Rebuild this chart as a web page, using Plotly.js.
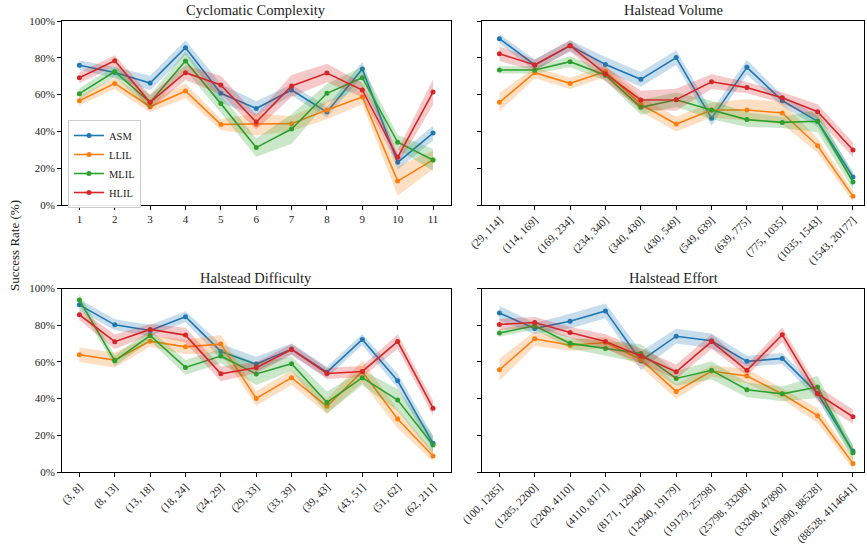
<!DOCTYPE html>
<html>
<head>
<meta charset="utf-8">
<script src="https://cdn.plot.ly/plotly-3.0.1.min.js"></script>
<style>html,body{margin:0;padding:0;background:#fff;}#chart{width:867px;height:544px;}</style>
</head>
<body>
<div id="chart"></div>
<script>
// ---------- categories ----------
const catCC = ["1","2","3","4","5","6","7","8","9","10","11"];
const catHV = ["(29, 114]","(114, 169]","(169, 234]","(234, 340]","(340, 430]","(430, 549]","(549, 639]","(639, 775]","(775, 1035]","(1035, 1543]","(1543, 20177]"];
const catHD = ["(3, 8]","(8, 13]","(13, 18]","(18, 24]","(24, 29]","(29, 33]","(33, 39]","(39, 43]","(43, 51]","(51, 62]","(62, 211]"];
const catHE = ["(100, 1285]","(1285, 2200]","(2200, 4110]","(4110, 8171]","(8171, 12940]","(12940, 19179]","(19179, 25798]","(25798, 33208]","(33208, 47890]","(47890, 88528]","(88528, 4114641]"];

const seriesNames = ["ASM","LLIL","MLIL","HLIL"];
const yTickVals = [0, 20, 40, 60, 80, 100];
const yTickText = ["0%", "20%", "40%", "60%", "80%", "100%"];

// ---------- Cyclomatic Complexity ----------
const ccASM  = [76, 72, 66.3, 85.5, 60.7, 52.4, 62.5, 50.5, 73.9, 23.2, 39.1];
const ccLLIL = [56.7, 66.1, 53.4, 62, 43.8, 43.8, 44.2, 51.6, 58.7, 13, 24.5];
const ccMLIL = [60.5, 72.5, 55.8, 78.3, 55.1, 31.2, 41.3, 60.7, 69.2, 34.1, 24.5];
const ccHLIL = [69.2, 78.4, 55.8, 71.9, 65.2, 45.1, 64.7, 71.7, 62.5, 25.9, 61.4];
const ccASMerr  = [2.5, 3, 4, 4, 5, 4, 3, 3, 4, 4, 4];
const ccLLILerr = [2.5, 3, 3, 4, 3, 6, 4, 5, 4, 8, 5];
const ccMLILerr = [3, 3, 4, 5, 5, 5, 8, 5, 6, 4, 6];
const ccHLILerr = [3, 3, 4, 4, 5, 4, 6, 5, 4, 4, 7];

// ---------- Halstead Volume ----------
const hvASM  = [90.4, 76.1, 86.6, 76.4, 68.3, 80.1, 47.1, 74.8, 56.7, 45.5, 15.2];
const hvLLIL = [55.8, 71.9, 66.1, 72.5, 54.7, 44, 51.6, 51.6, 50, 32.2, 4.7];
const hvMLIL = [73.4, 73.4, 77.9, 70.5, 53.1, 57.2, 51.6, 46.4, 44.9, 45.5, 12.5];
const hvHLIL = [82.2, 76.1, 86.6, 71.2, 57.1, 57.2, 67, 63.8, 58.3, 50.7, 29.9];
const hvASMerr  = [2.5, 3, 3, 4, 4, 4, 4, 4, 3, 3, 3];
const hvLLILerr = [5, 3, 3, 3, 4, 4, 4, 6, 6, 4, 3];
const hvMLILerr = [2, 2, 3, 3, 4, 4, 5, 4, 3, 6, 4];
const hvHLILerr = [4, 3, 3, 4, 5, 6, 4, 3, 3, 4, 4];

// ---------- Halstead Difficulty ----------
const hdASM  = [91.1, 80.2, 77.1, 84.6, 65.7, 58.8, 67, 54.4, 72.2, 49.7, 15.6];
const hdLLIL = [63.9, 61, 71.3, 68.2, 69.7, 40.1, 51.4, 35.8, 54.8, 28.9, 8.7];
const hdMLIL = [93.8, 60.6, 74.4, 57, 63.2, 53.4, 59, 37.9, 51.4, 39.2, 14.7];
const hdHLIL = [85.7, 71, 77.7, 74.6, 53.5, 56.8, 66.8, 53.7, 54.8, 71.1, 34.8];
const hdASMerr  = [3, 3, 3, 3, 4, 4, 3, 3, 3, 4, 4];
const hdLLILerr = [4, 4, 3, 4, 5, 4, 4, 4, 6, 5, 3];
const hdMLILerr = [3, 3, 3, 4, 4, 6, 4, 6, 4, 6, 5];
const hdHLILerr = [3, 4, 3, 4, 4, 3, 3, 3, 3, 4, 4];

// ---------- Halstead Effort ----------
const heASM  = [86.6, 78.2, 82.2, 87.8, 60.6, 74, 71.5, 60.3, 61.9, 42.8, 11.4];
const heLLIL = [55.7, 72.6, 69.1, 70.6, 61.3, 43.9, 55, 52.3, 42.5, 30.7, 4.7];
const heMLIL = [75.7, 79.7, 70.1, 67.3, 64.6, 51, 55.4, 44.8, 42.6, 46.3, 10.5];
const heHLIL = [80.4, 81.5, 76, 71.1, 63.2, 54.6, 71.1, 55.4, 74.8, 42.6, 30.1];
const heASMerr  = [4, 3, 4, 4, 5, 4, 4, 3, 3, 3, 3];
const heLLILerr = [6, 4, 3, 3, 4, 4, 3, 4, 3, 4, 3];
const heMLILerr = [2, 2, 3, 4, 5, 4, 5, 4, 4, 6, 4];
const heHLILerr = [3, 3, 3, 4, 4, 4, 4, 3, 4, 4, 4];

// ---------- styling ----------
const colors = ["#1f77b4","#ff7f0e","#2ca02c","#d62728"];
const bandColors = ["rgba(31,119,180,0.25)","rgba(255,127,14,0.25)","rgba(44,160,44,0.25)","rgba(214,39,40,0.25)"];
const FONT = "Liberation Serif, Times New Roman, serif";

const panels = [
  {xa:"x",  ya:"y",  cats:catCC, vals:[ccASM,ccLLIL,ccMLIL,ccHLIL], errs:[ccASMerr,ccLLILerr,ccMLILerr,ccHLILerr], legend:true},
  {xa:"x2", ya:"y2", cats:catHV, vals:[hvASM,hvLLIL,hvMLIL,hvHLIL], errs:[hvASMerr,hvLLILerr,hvMLILerr,hvHLILerr], legend:false},
  {xa:"x3", ya:"y3", cats:catHD, vals:[hdASM,hdLLIL,hdMLIL,hdHLIL], errs:[hdASMerr,hdLLILerr,hdMLILerr,hdHLILerr], legend:false},
  {xa:"x4", ya:"y4", cats:catHE, vals:[heASM,heLLIL,heMLIL,heHLIL], errs:[heASMerr,heLLILerr,heMLILerr,heHLILerr], legend:false}
];

const traces = [];
panels.forEach(p => {
  p.vals.forEach((v, s) => {
    const e = p.errs[s];
    const up = v.map((d,i) => d + e[i]);
    const lo = v.map((d,i) => d - e[i]);
    traces.push({x:p.cats, y:up, xaxis:p.xa, yaxis:p.ya, type:"scatter", mode:"lines",
      line:{width:0, color:"rgba(0,0,0,0)"}, hoverinfo:"skip", showlegend:false});
    traces.push({x:p.cats, y:lo, xaxis:p.xa, yaxis:p.ya, type:"scatter", mode:"lines",
      line:{width:0, color:"rgba(0,0,0,0)"}, fill:"tonexty", fillcolor:bandColors[s], hoverinfo:"skip", showlegend:false});
    traces.push({x:p.cats, y:v, xaxis:p.xa, yaxis:p.ya, type:"scatter", mode:"lines+markers",
      name:seriesNames[s], line:{width:1.6, color:colors[s]}, marker:{size:5, color:colors[s]},
      showlegend:p.legend});
  });
});

const W = 867, H = 544;
const xL = [61.7/W, 450.7/W], xR = [481.7/W, 864.3/W];
const yT = [(H-205)/H, (H-21)/H], yB = [(H-472)/H, (H-288.5)/H];

function xaxisDef(dom, anchor, rngMax, angle) {
  return {domain:dom, anchor:anchor, type:"category", range:[-0.5, rngMax],
    showline:true, mirror:true, linecolor:"#000", linewidth:1, ticks:"outside", ticklen:3.5, tickwidth:1, tickcolor:"#000",
    showgrid:false, zeroline:false, tickangle:angle, tickfont:{family:FONT, size:11, color:"#222"}, automargin:false};
}
function yaxisDef(dom, anchor, labels) {
  return {domain:dom, anchor:anchor, range:[0,100], tickmode:"array", tickvals:yTickVals, ticktext:yTickText,
    showticklabels:labels, showline:true, mirror:true, linecolor:"#000", linewidth:1, ticks:"outside", ticklen:3.5, tickwidth:1, tickcolor:"#000",
    showgrid:false, zeroline:false, tickfont:{family:FONT, size:11, color:"#222"}, automargin:false};
}

const layout = {
  width:W, height:H, margin:{l:0, r:0, t:0, b:0}, paper_bgcolor:"#fff", plot_bgcolor:"#fff",
  font:{family:FONT, color:"#222"},
  xaxis: xaxisDef(xL, "y", 10.5, 0),
  xaxis2: xaxisDef(xR, "y2", 10.32, -45),
  xaxis3: xaxisDef(xL, "y3", 10.5, -45),
  xaxis4: xaxisDef(xR, "y4", 10.32, -45),
  yaxis: yaxisDef(yT, "x", true),
  yaxis2: yaxisDef(yT, "x2", false),
  yaxis3: yaxisDef(yB, "x3", true),
  yaxis4: yaxisDef(yB, "x4", false),
  showlegend:true,
  legend:{x:68/W, y:(H-120)/H, xanchor:"left", yanchor:"top", bgcolor:"rgba(255,255,255,0.9)", traceorder:"normal",
    bordercolor:"#ccc", borderwidth:1, font:{family:FONT, size:10.5, color:"#222"}, tracegroupgap:0, itemwidth:30},
  annotations:[
    {text:"Cyclomatic Complexity", xref:"paper", yref:"paper", x:(xL[0]+xL[1])/2, y:yT[1], xanchor:"center", yanchor:"bottom", yshift:1, showarrow:false, font:{family:FONT, size:14.5, color:"#222"}},
    {text:"Halstead Volume", xref:"paper", yref:"paper", x:(xR[0]+xR[1])/2, y:yT[1], xanchor:"center", yanchor:"bottom", yshift:1, showarrow:false, font:{family:FONT, size:14.5, color:"#222"}},
    {text:"Halstead Difficulty", xref:"paper", yref:"paper", x:(xL[0]+xL[1])/2, y:yB[1], xanchor:"center", yanchor:"bottom", yshift:1, showarrow:false, font:{family:FONT, size:14.5, color:"#222"}},
    {text:"Halstead Effort", xref:"paper", yref:"paper", x:(xR[0]+xR[1])/2, y:yB[1], xanchor:"center", yanchor:"bottom", yshift:1, showarrow:false, font:{family:FONT, size:14.5, color:"#222"}},
    {text:"Success Rate (%)", xref:"paper", yref:"paper", x:15/W, y:(H-246)/H, xanchor:"center", yanchor:"middle", textangle:-90, showarrow:false, font:{family:FONT, size:13, color:"#222"}}
  ]
};

Plotly.newPlot("chart", traces, layout, {displayModeBar:false, staticPlot:true});
</script>
</body>
</html>
